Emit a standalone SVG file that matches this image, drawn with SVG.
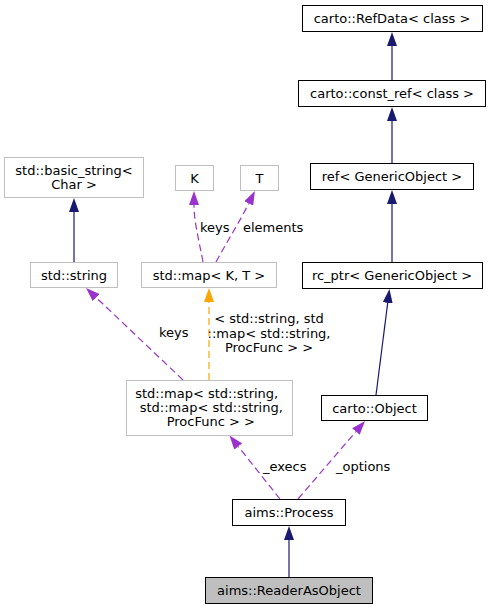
<svg xmlns="http://www.w3.org/2000/svg" width="491" height="607" viewBox="0 0 491 607">
<style>
text{font-family:"DejaVu Sans","Liberation Sans",sans-serif;font-size:13px;fill:#000}
.c text{text-anchor:middle}
.d rect{fill:#fff;stroke:#000;stroke-width:1}
.g rect{fill:#fff;stroke:#bfbfbf;stroke-width:1}
.cur rect{fill:#bfbfbf;stroke:#000;stroke-width:1}
.inh{stroke:#191970;fill:none;stroke-width:1.2;marker-end:url(#ai)}
.use{stroke:#9a32cd;fill:none;stroke-width:1.2;stroke-dasharray:7,4;marker-end:url(#au)}
.tpl{stroke:#ffa500;fill:none;stroke-width:1.2;stroke-dasharray:7,4;marker-end:url(#at)}
</style>
<defs>
<marker id="ai" markerUnits="userSpaceOnUse" viewBox="0 0 14 10" refX="0" refY="5" markerWidth="14" markerHeight="10" orient="auto"><path d="M0,0L14,5L0,10z" fill="#191970"/></marker>
<marker id="au" markerUnits="userSpaceOnUse" viewBox="0 0 14 10" refX="0" refY="5" markerWidth="14" markerHeight="10" orient="auto"><path d="M0,0L14,5L0,10z" fill="#9a32cd"/></marker>
<marker id="at" markerUnits="userSpaceOnUse" viewBox="0 0 14 10" refX="0" refY="5" markerWidth="14" markerHeight="10" orient="auto"><path d="M0,0L14,5L0,10z" fill="#ffa500"/></marker>
</defs>
<g id="edges">
<path class="inh" d="M392,80.5L392,46"/>
<path class="inh" d="M392,163L392,121"/>
<path class="inh" d="M392,262L392,204"/>
<path class="inh" d="M376,395L387.7,302.9"/>
<path class="inh" d="M74,262L74,212"/>
<path class="inh" d="M289,577L289,540"/>
<path class="use" d="M298,499L355.9,431.6"/>
<path class="use" d="M280,499L238.2,446.5"/>
<path class="use" d="M183,380L96.2,297.6"/>
<path class="tpl" d="M209,380L209,302"/>
<path class="use" d="M203,262C199,240 194,222 194,205"/>
<path class="use" d="M216,262C228,240 240,221 248.7,203.5"/>
<text x="200" y="232">keys</text>
<text x="243" y="232">elements</text>
<text x="159" y="337">keys</text>
<text x="269" y="323" text-anchor="middle">&lt; std::string, std</text>
<text x="269" y="337.5" text-anchor="middle">::map&lt; std::string,</text>
<text x="269" y="352" text-anchor="middle">ProcFunc &gt; &gt;</text>
<text x="263" y="471">_execs</text>
<text x="336" y="471">_options</text>
</g>
<g id="refdata" class="d c"><rect x="302.5" y="5.5" width="180" height="26"/><text x="392" y="23">carto::RefData&lt; class &gt;</text></g>
<g id="constref" class="d c"><rect x="298.5" y="80.5" width="187" height="26"/><text x="392" y="98">carto::const_ref&lt; class &gt;</text></g>
<g id="ref" class="d c"><rect x="310.5" y="163.5" width="163" height="26"/><text x="392" y="181">ref&lt; GenericObject &gt;</text></g>
<g id="rcptr" class="d c"><rect x="302.5" y="262.5" width="180" height="26"/><text x="392" y="280">rc_ptr&lt; GenericObject &gt;</text></g>
<g id="basicstring" class="g c"><rect x="4.5" y="157.5" width="139" height="40"/><text x="74" y="174.5">std::basic_string&lt;</text><text x="74" y="188.5">Char &gt;</text></g>
<g id="K" class="g c"><rect x="175.5" y="165.5" width="38" height="25"/><text x="194.5" y="182.5">K</text></g>
<g id="T" class="g c"><rect x="240.5" y="165.5" width="38" height="25"/><text x="259.5" y="182.5">T</text></g>
<g id="stdstring" class="g c"><rect x="30.5" y="262.5" width="87" height="25"/><text x="74" y="279.5">std::string</text></g>
<g id="mapKT" class="g c"><rect x="141.5" y="262.5" width="135" height="25"/><text x="209" y="279.5">std::map&lt; K, T &gt;</text></g>
<g id="mapbig" class="g c"><rect x="126.5" y="380.5" width="166" height="55"/><text x="206.7" y="397.5">std::map&lt; std::string,</text><text x="211.3" y="411.5">std::map&lt; std::string,</text><text x="210.8" y="425.5">ProcFunc &gt; &gt;</text></g>
<g id="object" class="d c"><rect x="321.5" y="395.5" width="106" height="25"/><text x="374.5" y="412.5">carto::Object</text></g>
<g id="process" class="d c"><rect x="232.5" y="499.5" width="113" height="26"/><text x="289" y="517">aims::Process</text></g>
<g id="reader" class="cur c"><rect x="205.5" y="577.5" width="167" height="26"/><text x="289" y="595">aims::ReaderAsObject</text></g>
</svg>
